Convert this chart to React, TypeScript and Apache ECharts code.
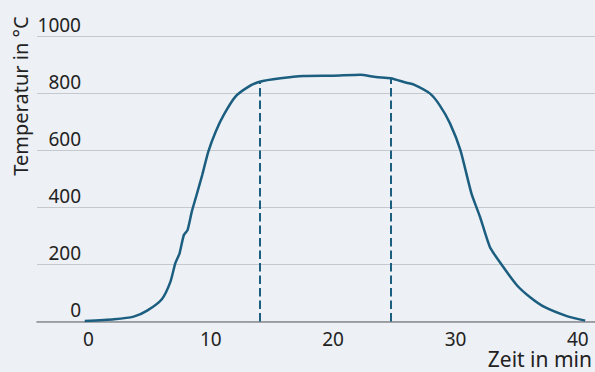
import React, { useEffect, useRef } from "react";
import * as echarts from "echarts";

const timeMin = [-0.3, 2.1, 3.7, 4.8, 6.0, 6.7, 7.1, 7.45, 7.8, 8.1, 8.45, 8.8, 9.3, 9.8, 10.4, 11.05, 12.0, 13.0, 14.0, 15.7, 17.6, 20.0, 22.2, 23.5, 24.7, 26.0, 26.6, 27.9, 28.7, 29.55, 30.4, 31.3, 32.0, 32.8, 33.6, 35.0, 36.1, 37.3, 39.1, 40.6];
const tempC = [2, 8, 17, 38, 78, 139, 204, 239, 303, 320, 385, 437, 513, 595, 665, 723, 787, 820, 840, 852, 860, 861, 864, 856, 852, 836, 830, 799, 758, 694, 600, 449, 367, 262, 209, 128, 85, 50, 19, 3];
const markTimes = [14.0, 24.7];
const markTemps = [840, 852];
const xTickLabels = [0, 10, 20, 30, 40];
const xTitle = "Zeit in min";
const yTitle = "Temperatur in °C";

const LINE = "#1b5e80";
const FONT = "Noto Sans";

export default function App() {
  const ref = useRef<HTMLDivElement>(null);
  useEffect(() => {
    const chart = echarts.init(ref.current!, undefined, { renderer: "svg" });
    chart.setOption({
      animation: false,
      backgroundColor: "#edf0f4",
      textStyle: { fontFamily: FONT },
      grid: { left: 37, right: 0, top: 36, bottom: 50.5, containLabel: false },
      xAxis: {
        type: "value",
        min: -4.2,
        max: 41.4,
        axisLine: { show: true, lineStyle: { color: "#8a8d91", width: 1.5 } },
        axisTick: { show: false },
        splitLine: { show: false },
        axisLabel: {
          customValues: xTickLabels,
          margin: 8,
          fontSize: 19,
          lineHeight: 19,
          color: "#222",
          fontFamily: FONT,
        },
      },
      yAxis: {
        type: "value",
        min: 0,
        max: 1000,
        interval: 200,
        axisLine: { show: false },
        axisTick: { show: false },
        splitLine: { show: true, lineStyle: { color: "#c5c8cc", width: 1 } },
        axisLabel: {
          align: "right",
          verticalAlign: "bottom",
          margin: -44,
          padding: [0, 0, 2, 0],
          fontSize: 19,
          color: "#222",
          fontFamily: FONT,
          formatter: (v: number) => String(v),
        },
      },
      graphic: [
        {
          type: "text",
          x: 592,
          y: 359,
          style: {
            text: xTitle,
            fontSize: 21,
            lineHeight: 20,
            fill: "#222",
            fontFamily: FONT,
            align: "right",
            verticalAlign: "middle",
          },
        },
        {
          type: "text",
          x: 20,
          y: 96,
          rotation: Math.PI / 2,
          style: {
            text: yTitle,
            fontSize: 20,
            fill: "#222",
            fontFamily: FONT,
            align: "center",
            verticalAlign: "middle",
          },
        },
      ],
      series: [
        {
          type: "line",
          data: timeMin.map((t, i) => [t, tempC[i]]),
          showSymbol: false,
          smooth: 0.2,
          lineStyle: { color: LINE, width: 2.5 },
          markLine: {
            silent: true,
            symbol: "none",
            label: { show: false },
            lineStyle: { color: LINE, width: 2, type: [8.5, 4] },
            data: markTimes.map((t, i) => [
              { coord: [t, 0] },
              { coord: [t, markTemps[i]] },
            ]),
          },
        },
      ],
    });
    return () => chart.dispose();
  }, []);
  return <div ref={ref} style={{ width: 595, height: 372, position: "absolute", left: 0, top: 0 }} />;
}
